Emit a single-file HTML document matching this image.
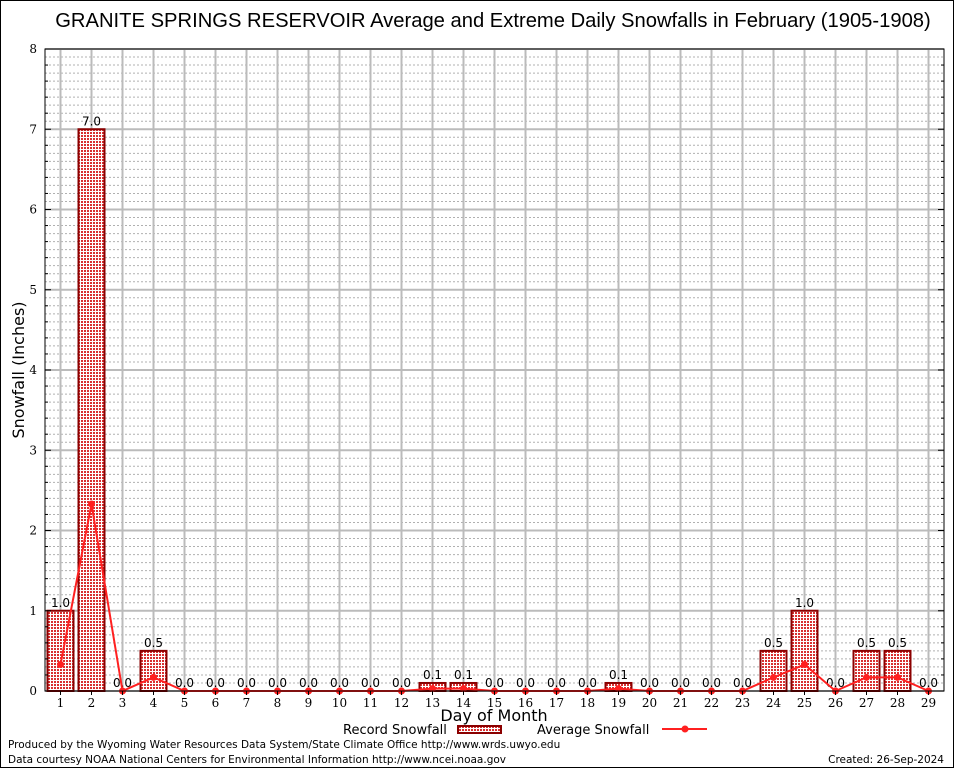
<!DOCTYPE html>
<html><head><meta charset="utf-8"><style>
html,body{margin:0;padding:0;background:#fff}
svg{display:block}
.sans{font-family:"DejaVu Sans","Liberation Sans",sans-serif}
.serif{font-family:"DejaVu Serif","Liberation Serif",serif}
.lib{font-family:"Liberation Sans",sans-serif}
</style></head><body>
<svg id="chart" width="954" height="768" viewBox="0 0 954 768">
<defs>
<pattern id="chk" width="3" height="3" patternUnits="userSpaceOnUse">
<rect width="3" height="3" fill="#fff"/>
<rect width="2" height="2" fill="#d83030"/>
</pattern>
</defs>
<rect x="0.5" y="0.5" width="953" height="767" fill="#fff" stroke="#000"/>
<text x="493" y="27" text-anchor="middle" font-size="20.2" class="lib">GRANITE SPRINGS RESERVOIR Average and Extreme Daily Snowfalls in February (1905-1908)</text>
<g id="grid"></g>
<g id="bars"></g>
<g id="line"></g>
<g id="axes"></g>
<text x="24" y="370" transform="rotate(-90 24 370)" text-anchor="middle" font-size="16" class="sans">Snowfall (Inches)</text>
<text x="494" y="721" text-anchor="middle" font-size="16" class="sans">Day of Month</text>
<g>
<text x="343" y="734" font-size="13" class="sans">Record Snowfall</text>
<rect x="458" y="726" width="43" height="7" fill="url(#chk)" stroke="#8b0000" stroke-width="2"/>
<text x="537" y="734" font-size="13" class="sans">Average Snowfall</text>
<line x1="662" y1="729" x2="707" y2="729" stroke="#ff2020" stroke-width="2"/>
<circle cx="685" cy="729" r="3.5" fill="#ff2020"/>
</g>
<text x="8" y="748" font-size="10.5" class="sans">Produced by the Wyoming Water Resources Data System/State Climate Office http://www.wrds.uwyo.edu</text>
<text x="8" y="763" font-size="10.5" class="sans">Data courtesy NOAA National Centers for Environmental Information http://www.ncei.noaa.gov</text>
<text x="944" y="763" text-anchor="end" font-size="10.5" class="sans">Created: 26-Sep-2024</text>
</svg>
<script>
const days = [1,2,3,4,5,6,7,8,9,10,11,12,13,14,15,16,17,18,19,20,21,22,23,24,25,26,27,28,29];
const recordSnow = [1.0,7.0,0.0,0.5,0.0,0.0,0.0,0.0,0.0,0.0,0.0,0.0,0.1,0.1,0.0,0.0,0.0,0.0,0.1,0.0,0.0,0.0,0.0,0.5,1.0,0.0,0.5,0.5,0.0];
const avgSnow = [0.33,2.33,0,0.17,0,0,0,0,0,0,0,0,0.03,0.03,0,0,0,0,0.03,0,0,0,0,0.17,0.33,0,0.17,0.17,0];
const yTicks = [0,1,2,3,4,5,6,7,8];

const L=45,R=944,T=49,B=691,YMAX=8;
const step=(R-L)/days.length;
const xs=d=>L+(d-0.5)*step;
const ys=v=>B-v/YMAX*(B-T);
const NS='http://www.w3.org/2000/svg';
function mk(tag,attrs,parent){const e=document.createElementNS(NS,tag);for(const k in attrs)e.setAttribute(k,attrs[k]);parent.appendChild(e);return e;}
const grid=document.getElementById('grid'),bars=document.getElementById('bars'),line=document.getElementById('line'),axes=document.getElementById('axes');

for(let i=1;i<YMAX*10;i++){ if(i%10===0)continue;
  const e=mk('line',{x1:L,x2:R,y1:ys(i/10),y2:ys(i/10),stroke:'#b0b0b0','stroke-width':1,'stroke-dasharray':'2,2'},grid);
  
  
}
yTicks.forEach(v=>{
  const e=mk('line',{x1:L,x2:R,y1:ys(v),y2:ys(v),stroke:'#bbbbbb','stroke-width':2},grid);
  
  
  const t=mk('text',{x:L-8,y:ys(v)+4,'text-anchor':'end','font-size':12,class:'serif'},axes);
  t.textContent=v;
  
  
});
days.forEach(d=>{
  const e=mk('line',{x1:xs(d),x2:xs(d),y1:T,y2:B,stroke:'#bbbbbb','stroke-width':2},grid);
  
  
  const t=mk('text',{x:xs(d),y:B+16,'text-anchor':'middle','font-size':12,class:'serif'},axes);
  t.textContent=d;
  
  
  const tk=mk('line',{x1:xs(d),x2:xs(d),y1:B,y2:B+4,stroke:'#000'},axes);
  
  
});
for(let i=0;i<=YMAX*5;i++){
  const len=i%5===0?6:3;
  const a=mk('line',{x1:L,x2:L+len,y1:ys(i/5),y2:ys(i/5),stroke:'#000'},axes);
  
  
  const b=mk('line',{x1:R,x2:R-len,y1:ys(i/5),y2:ys(i/5),stroke:'#000'},axes);
  
  
}
const frame=mk('rect',{x:L,y:T,width:R-L,height:B-T,fill:'none',stroke:'#000','stroke-width':1},axes);



const bw=step-5;
days.forEach((d,i)=>{
  const v=recordSnow[i];
  if(v>0){
    const r=mk('rect',{x:xs(d)-bw/2,y:ys(v),width:bw,height:B-ys(v),fill:'url(#chk)',stroke:'#8b0000','stroke-width':2},bars);
    
    
  }
  const t=mk('text',{x:xs(d),y:ys(v)-4,'text-anchor':'middle','font-size':12,class:'sans'},bars);
  t.textContent=v.toFixed(1);
  
  
});
const pts=days.map((d,i)=>xs(d)+','+ys(avgSnow[i])).join(' ');
const pl=mk('polyline',{points:pts,fill:'none',stroke:'#ff2020','stroke-width':2},line);


days.forEach((d,i)=>{
  const c=mk('circle',{cx:xs(d),cy:ys(avgSnow[i]),r:3.5,fill:'#ff2020'},line);
  
  
});
</script>
</body></html>
